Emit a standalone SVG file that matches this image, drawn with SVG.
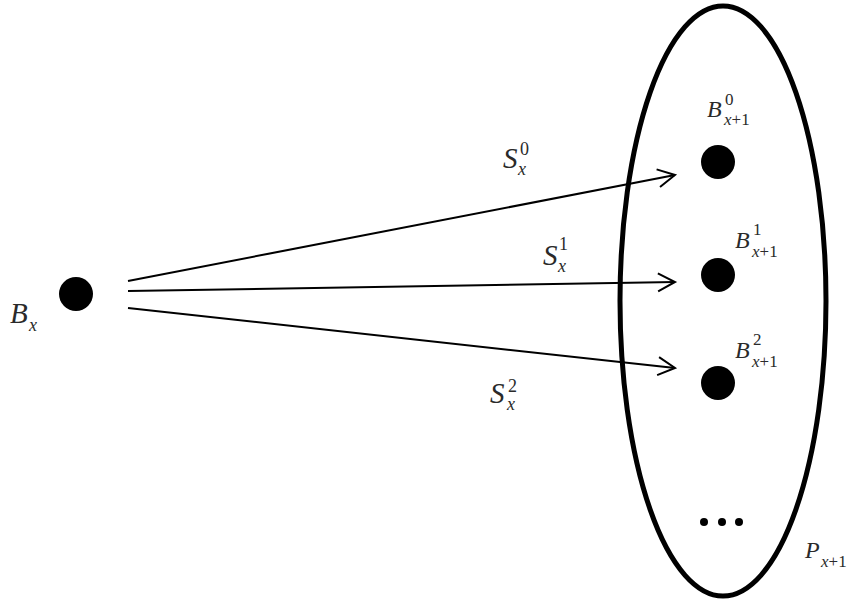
<svg xmlns="http://www.w3.org/2000/svg" width="848" height="603" viewBox="0 0 848 603">
<style>
.lbl{font-family:"Liberation Serif","DejaVu Serif",serif;font-style:italic;fill:#2a2a2a}
.big{font-size:29px}
.med{font-size:24px}
.sm{font-size:18px}
.xs{font-size:17px}
.up{font-style:normal}
.dot{fill:#000}
.conn{stroke:#000;stroke-width:2;fill:none}
</style>
<defs>
<marker id="arr" markerUnits="userSpaceOnUse" markerWidth="24" markerHeight="24" viewBox="-20 -12 24 24" refX="0" refY="0" orient="auto">
<path d="M-17,-9 L0,0 L-17,9" fill="none" stroke="#000" stroke-width="2"/>
</marker>
</defs>
<rect width="848" height="603" fill="#fff"/>
<g id="set-P">
<ellipse cx="723" cy="301" rx="103" ry="295" fill="none" stroke="#000" stroke-width="5"/>
<text class="lbl med" x="805" y="558">P</text>
<text class="lbl xs" x="821" y="567">x<tspan class="up">+1</tspan></text>
</g>
<g id="connectors">
<line class="conn" x1="128" y1="281" x2="675" y2="175" marker-end="url(#arr)"/>
<line class="conn" x1="128" y1="291" x2="675" y2="282" marker-end="url(#arr)"/>
<line class="conn" x1="128" y1="308" x2="675" y2="368" marker-end="url(#arr)"/>
<text class="lbl big" x="503" y="168">S</text>
<text class="lbl sm up" x="520" y="155">0</text>
<text class="lbl sm" x="518" y="175">x</text>
<text class="lbl big" x="543" y="265">S</text>
<text class="lbl sm up" x="559" y="250">1</text>
<text class="lbl sm" x="558" y="272">x</text>
<text class="lbl big" x="490" y="403">S</text>
<text class="lbl sm up" x="508" y="392">2</text>
<text class="lbl sm" x="507" y="410">x</text>
</g>
<g id="node-Bx">
<circle class="dot" cx="76" cy="294" r="17"/>
<text class="lbl big" x="10" y="323">B</text>
<text class="lbl sm" x="29" y="331">x</text>
</g>
<g id="node-B0">
<circle class="dot" cx="718" cy="162" r="17"/>
<text class="lbl med" x="707" y="117">B</text>
<text class="lbl xs up" x="725" y="105">0</text>
<text class="lbl xs" x="724" y="125">x<tspan class="up">+1</tspan></text>
</g>
<g id="node-B1">
<circle class="dot" cx="718" cy="275" r="17"/>
<text class="lbl med" x="735" y="248">B</text>
<text class="lbl xs up" x="753" y="235">1</text>
<text class="lbl xs" x="752" y="257">x<tspan class="up">+1</tspan></text>
</g>
<g id="node-B2">
<circle class="dot" cx="718" cy="383" r="17"/>
<text class="lbl med" x="735" y="358">B</text>
<text class="lbl xs up" x="753" y="345">2</text>
<text class="lbl xs" x="752" y="367">x<tspan class="up">+1</tspan></text>
</g>
<g id="ellipsis">
<circle class="dot" cx="704" cy="522" r="4"/>
<circle class="dot" cx="722" cy="522" r="4"/>
<circle class="dot" cx="739" cy="522" r="4"/>
</g>
</svg>
